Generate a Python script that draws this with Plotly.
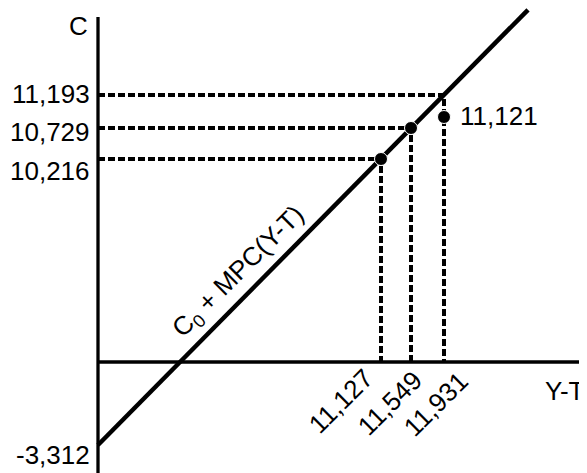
import plotly.graph_objects as go

# ---- data (values shown on the chart) ----
c_labels = ["11,193", "10,729", "10,216"]          # consumption tick values
yt_labels = ["11,127", "11,549", "11,931"]          # disposable income tick values
intercept_label = "-3,312"
point_label = "11,121"

# schematic positions of the values on the (not-to-scale) axes
x_pos = [28.3, 31.3, 34.6]                          # 11,127 / 11,549 / 11,931
c_line_pos = [20.3, 23.4, 26.7]                     # C on the consumption line at x_pos
c_obs_pos = [20.3, 23.4, 24.5]                      # observed points
intercept_pos = -8.3
line_slope = 1.012
line_end_x = 43.0

FONT = "Liberation Sans, Arial, sans-serif"
FS = 26

fig = go.Figure()

# dashed guide lines
for xp, yp in zip(x_pos, c_line_pos):
    fig.add_trace(go.Scatter(x=[0, xp, xp], y=[yp, yp, 0], mode="lines",
                             line=dict(color="black", width=4, dash="7px,3px"),
                             hoverinfo="skip", showlegend=False))

# axes
fig.add_trace(go.Scatter(x=[0, 0], y=[-11.2, 34.5], mode="lines",
                         line=dict(color="black", width=3.3), showlegend=False, hoverinfo="skip"))
fig.add_trace(go.Scatter(x=[0, 49.0], y=[0, 0], mode="lines",
                         line=dict(color="black", width=3.3), showlegend=False, hoverinfo="skip"))

# consumption function line
fig.add_trace(go.Scatter(x=[0, line_end_x],
                         y=[intercept_pos, intercept_pos + line_slope * line_end_x],
                         mode="lines", line=dict(color="black", width=4.5),
                         showlegend=False, hoverinfo="skip"))

# observed points
fig.add_trace(go.Scatter(x=x_pos, y=c_obs_pos, mode="markers",
                         marker=dict(color="black", size=13, line=dict(color="white", width=1)),
                         showlegend=False, hoverinfo="skip"))

ann = []
def txt(x, y, s, xanchor="center", yanchor="middle", angle=0):
    ann.append(dict(x=x, y=y, text=s, showarrow=False, xanchor=xanchor, yanchor=yanchor,
                    textangle=angle, font=dict(family=FONT, size=FS, color="black")))

# y tick labels
label_y = [26.8, 23.0, 19.1]
for s, yy in zip(c_labels, label_y):
    txt(-0.6, yy, s, xanchor="right")
txt(-0.6, intercept_pos - 1.0, intercept_label, xanchor="right")
txt(-2.0, 33.6, "C")

# x tick labels (rotated)
label_xy = [(24.3, -3.9), (29.2, -4.1), (33.8, -4.2)]
for s, (xx, yy) in zip(yt_labels, label_xy):
    txt(xx, yy, s, angle=-45)
txt(48.9, -2.9, "Y-T", xanchor="right")

# point label
txt(36.0, 24.6, point_label, xanchor="left")

# line label
txt(14.0, 9.0, "C<sub>0</sub> + MPC(Y-T)", angle=-45)

# page has an 8px body margin: figure is sized/ranged to fill the rest of the window
fig.update_layout(
    width=579, height=465,
    margin=dict(l=0, r=0, t=0, b=0),
    paper_bgcolor="white", plot_bgcolor="white",
    xaxis=dict(range=[-9.0, 48.9], visible=False, fixedrange=True),
    yaxis=dict(range=[-11.1, 35.4], visible=False, fixedrange=True),
    annotations=ann,
    showlegend=False,
)

fig.write_html("out.html")
